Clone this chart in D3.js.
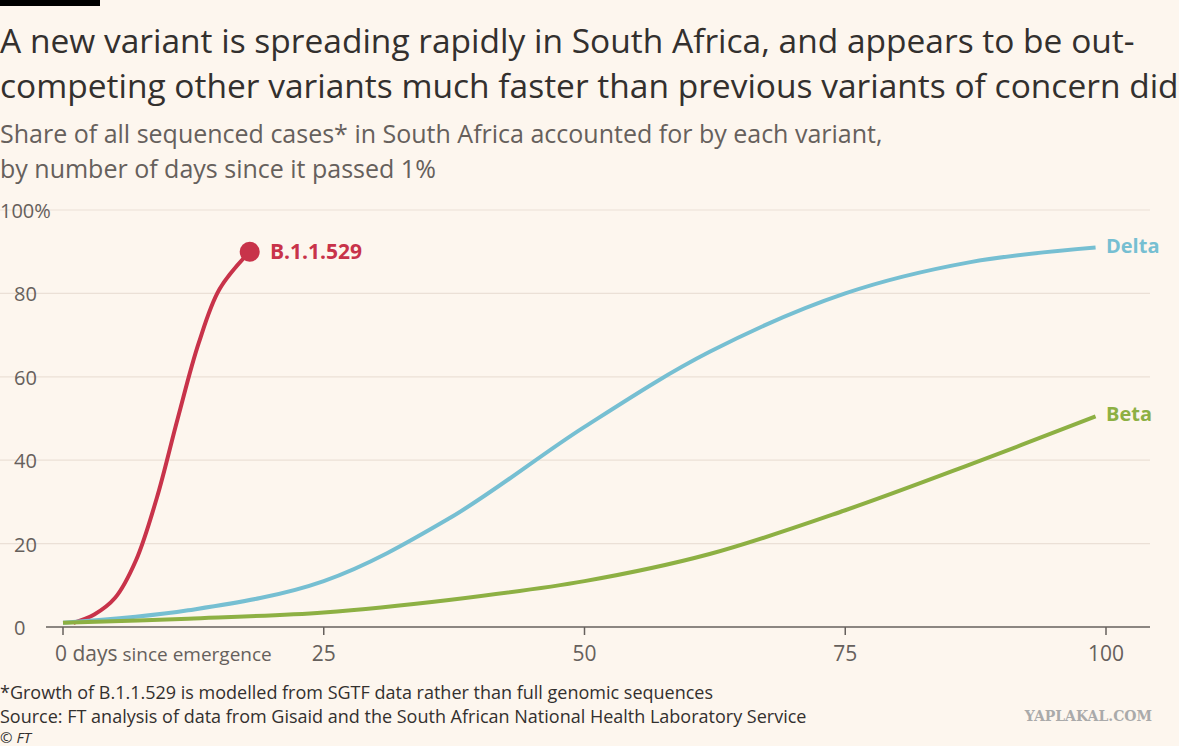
<!DOCTYPE html><html><head><meta charset="utf-8">
<script src="https://cdn.jsdelivr.net/npm/d3@7"></script>
<style>body{margin:0;background:#fdf6ee;}svg{display:block;font-family:"Open Sans","Noto Sans",sans-serif;}</style></head><body>
<svg id="c" width="1179" height="746"></svg>
<script>
const omicronDays=[1,3,5,7,9,11,13,15,17.9];
const omicronVals=[1,3,7,16,31,50,68,81,90];
const deltaDays=[0,12,25,37,50,62,75,87,99];
const deltaVals=[1,4,11,26,48,66,80,87.5,91];
const betaDays=[0,12,25,37,50,62,75,87,99];
const betaVals=[1,2,3.5,6.5,11,17.5,28,39,50.5];
const yTicks=[0,20,40,60,80,100];
const xTicks=[0,25,50,75,100];
const svg=d3.select("#c");
const x=d3.scaleLinear().domain([0,100]).range([63,1106]);
const y=d3.scaleLinear().domain([0,100]).range([627,210]);
svg.append("rect").attr("x",0).attr("y",0).attr("width",100).attr("height",6).attr("fill","#000");
const t=svg.append("text").attr("font-size",33.5).attr("fill","#33302e");
t.append("tspan").attr("x",0).attr("y",53).text("A new variant is spreading rapidly in South Africa, and appears to be out-");
t.append("tspan").attr("x",0).attr("y",98).text("competing other variants much faster than previous variants of concern did");
const s=svg.append("text").attr("font-size",25).attr("fill","#66605c");
s.append("tspan").attr("x",0).attr("y",143).text("Share of all sequenced cases* in South Africa accounted for by each variant,");
s.append("tspan").attr("x",0).attr("y",178).text("by number of days since it passed 1%");
yTicks.forEach(v=>{
 if(v>0) svg.append("line").attr("x1",0).attr("x2",1150).attr("y1",y(v)).attr("y2",y(v)).attr("stroke","#ebe0d6").attr("stroke-width",1.2);
 svg.append("text").attr("x",v==100?0:14).attr("y",y(v)+8).attr("font-size",20).attr("fill","#66605c").text(v==100?"100%":v);
});
svg.append("line").attr("x1",46).attr("x2",1150).attr("y1",y(0)).attr("y2",y(0)).attr("stroke","#66605c").attr("stroke-width",1.5);
xTicks.forEach(v=>{
 svg.append("line").attr("x1",x(v)).attr("x2",x(v)).attr("y1",y(0)).attr("y2",y(0)+8).attr("stroke","#66605c").attr("stroke-width",1.5);
 const tx=svg.append("text").attr("x",x(v)).attr("y",661).attr("font-size",21).attr("fill","#66605c").attr("text-anchor",v==0?"start":"middle").attr("dx",v==0?-8:0);
 tx.text(v==0?"0 days":v);
 if(v==0) tx.append("tspan").attr("font-size",19).text(" since emergence");
});
const line=d3.line().x(d=>x(d[0])).y(d=>y(d[1])).curve(d3.curveCatmullRom);
const series=[[omicronDays,omicronVals,"#c8334a"],[deltaDays,deltaVals,"#76bfd2"],[betaDays,betaVals,"#8db043"]];
series.forEach(([d,v,c])=>svg.append("path").attr("d",line(d.map((a,i)=>[a,v[i]]))).attr("fill","none").attr("stroke",c).attr("stroke-width",4));
svg.append("circle").attr("cx",x(17.9)).attr("cy",y(90)).attr("r",10).attr("fill","#c8334a");
svg.append("text").attr("x",270).attr("y",y(90)+7).attr("font-size",21).attr("font-weight","bold").attr("fill","#c8334a").text("B.1.1.529");
svg.append("text").attr("x",1106).attr("y",y(91)+5).attr("font-size",20).attr("font-weight","bold").attr("fill","#76bfd2").text("Delta");
svg.append("text").attr("x",1106).attr("y",y(50.5)+5).attr("font-size",20).attr("font-weight","bold").attr("fill","#8db043").text("Beta");
const f=svg.append("text").attr("font-size",18).attr("fill","#33302e");
f.append("tspan").attr("x",0).attr("y",699).text("*Growth of B.1.1.529 is modelled from SGTF data rather than full genomic sequences");
f.append("tspan").attr("x",0).attr("y",723).text("Source: FT analysis of data from Gisaid and the South African National Health Laboratory Service");
f.append("tspan").attr("x",0).attr("y",743).attr("font-size",15).attr("font-style","italic").text("© FT");
svg.append("text").attr("x",1152).attr("y",721).attr("text-anchor","end").attr("font-size",14).attr("font-weight","bold").attr("font-family","DejaVu Serif").attr("fill","#aaa").text("YAPLAKAL.COM");
</script></body></html>
